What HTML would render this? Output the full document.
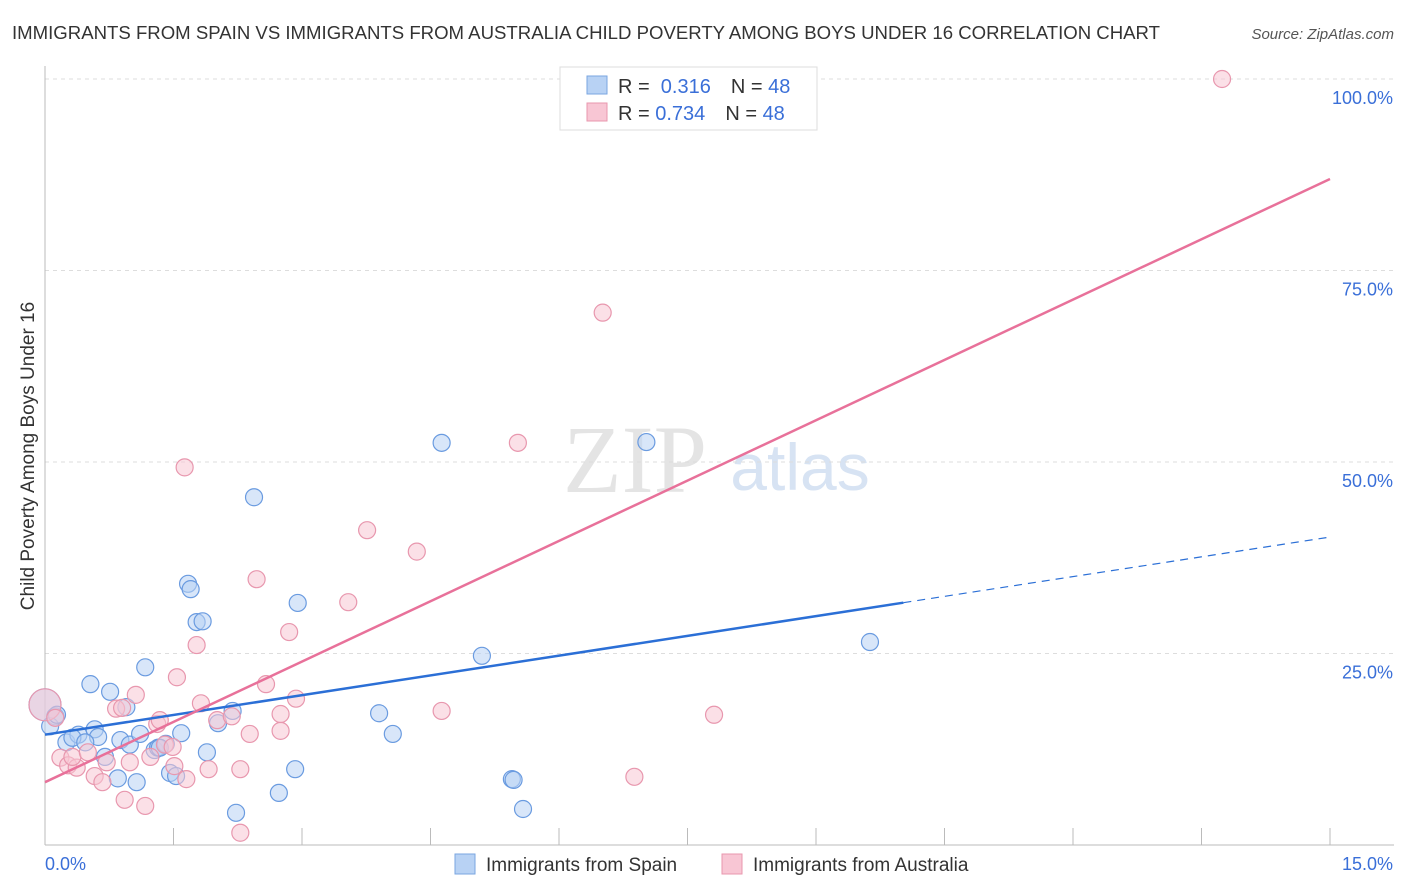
<!DOCTYPE html>
<html><head><meta charset="utf-8"><style>
body{margin:0;background:#fff;font-family:"Liberation Sans",sans-serif;}
#wrap{position:relative;width:1406px;height:892px;overflow:hidden}
</style></head><body>
<div id="wrap">
<svg id="chart" width="1406" height="892">
<text x="12" y="39" font-size="18.6" fill="#333" textLength="1148">IMMIGRANTS FROM SPAIN VS IMMIGRANTS FROM AUSTRALIA CHILD POVERTY AMONG BOYS UNDER 16 CORRELATION CHART</text>
<text x="1394" y="39" font-size="15" fill="#555" font-style="italic" text-anchor="end">Source: ZipAtlas.com</text>
<text x="635" y="492" font-size="96" fill="#e4e4e4" font-family="Liberation Serif" text-anchor="middle">ZIP</text>
<text x="800" y="490" font-size="66" fill="#d7e3f3" text-anchor="middle">atlas</text>
<text transform="translate(34,456) rotate(-90)" font-size="19" fill="#333" text-anchor="middle">Child Poverty Among Boys Under 16</text>
<g id="grid"></g><g id="axes"></g><g id="marks"></g><g id="lines"></g>
<g>
<rect x="560" y="67" width="257" height="63" fill="#fff" stroke="#ddd"/>
<rect x="587" y="76" width="20" height="18" fill="#b8d2f4" stroke="#7aa6e0"/>
<rect x="587" y="103" width="20" height="18" fill="#f8c6d4" stroke="#e897ae"/>
<text x="618" y="93" font-size="20" fill="#333">R = <tspan fill="#3a6fd8">&#160;0.316</tspan><tspan dx="20">N = </tspan><tspan fill="#3a6fd8">48</tspan></text>
<text x="618" y="120" font-size="20" fill="#333">R = <tspan fill="#3a6fd8">0.734</tspan><tspan dx="20">N = </tspan><tspan fill="#3a6fd8">48</tspan></text>
</g>
<g>
<rect x="455" y="854" width="20" height="20" fill="#b8d2f4" stroke="#7aa6e0"/>
<text x="486" y="871" font-size="19" fill="#333">Immigrants from Spain</text>
<rect x="722" y="854" width="20" height="20" fill="#f8c6d4" stroke="#e897ae"/>
<text x="753" y="871" font-size="19" fill="#333">Immigrants from Australia</text>
</g>
</svg>
</div>
<script>
const xTicks=[0,1.5,3,4.5,6,7.5,9,10.5,12,13.5,15];
const yTicks=[25,50,75,100];
const yTickLabels=["25.0%","50.0%","75.0%","100.0%"];
const spainX=[0,.12,.06,.14,.53,.76,.95,1.17,.25,.39,.58,.62,.32,.70,.88,.99,1.11,.85,1.07,1.28,1.32,1.59,1.67,1.70,1.77,1.84,1.89,2.02,2.19,1.46,1.53,2.23,2.44,2.73,2.92,2.95,3.90,4.06,4.63,5.10,5.45,5.47,5.58,7.02,9.63,1.41,1.34,.47];
const spainY=[18.3,16.8,15.5,17.0,21.0,20.0,18.0,23.2,13.4,14.4,15.1,14.1,14.0,11.5,13.7,13.1,14.5,8.7,8.2,12.4,12.7,14.6,34.1,33.4,29.1,29.2,12.1,15.9,17.5,9.4,9.0,4.2,45.4,6.8,9.9,31.6,17.2,14.5,52.5,24.7,8.6,8.5,4.7,52.6,26.5,13.2,12.7,13.4];
const ausX=[0,.12,.18,.27,.37,.32,.50,.58,.67,.72,.83,.90,1.06,.93,1.17,.99,1.23,1.31,1.34,1.40,1.51,1.54,1.65,1.63,1.77,1.82,1.91,2.01,2.18,2.28,2.39,2.47,2.58,2.28,2.75,2.75,2.85,2.93,3.54,3.76,4.34,4.63,5.52,6.51,6.88,7.81,13.74,1.49];
const ausY=[18.3,16.6,11.4,10.4,10.1,11.5,12.1,9.0,8.2,10.8,17.8,17.9,19.6,5.9,5.1,10.8,11.5,15.8,16.3,13.1,10.3,21.9,8.6,49.3,26.1,18.5,9.9,16.3,16.8,9.9,14.5,34.7,21.0,1.6,14.9,17.1,27.8,19.1,31.7,41.1,38.3,17.5,52.5,69.5,8.9,17.0,100,12.8];
const spainTrend=[14.4,1.72]; // intercept, slope
const ausTrend=[8.2,5.25];
const spainSolidEnd=10.02;

const X0=45,X1=1330,Y0=845,Y100=79;
const sx=v=>X0+(v/15)*(X1-X0);
const sy=v=>Y0-(v/100)*(Y0-Y100);
const NS="http://www.w3.org/2000/svg";
function mk(parent,tag,attrs){const e=document.createElementNS(NS,tag);for(const k in attrs)e.setAttribute(k,attrs[k]);document.getElementById(parent).appendChild(e);return e;}

yTicks.forEach((t,i)=>{
  const g=mk('grid','line',{x1:45,x2:1394,y1:sy(t),y2:sy(t),stroke:'#ddd','stroke-dasharray':'4,4'});
  
  
  const l=mk('axes','text',{x:1393,y:sy(t)+25,'font-size':18,fill:'#3a6fd8','text-anchor':'end'});
  l.textContent=yTickLabels[i];
  
  
});
const ya=mk('axes','line',{x1:45,x2:45,y1:66,y2:845,stroke:'#bbb'});


const xa=mk('axes','line',{x1:45,x2:1394,y1:845,y2:845,stroke:'#bbb'});


xTicks.forEach(t=>{
  const tk=mk('axes','line',{x1:sx(t),x2:sx(t),y1:828,y2:845,stroke:'#bbb'});
  
  
});
const xl0=mk('axes','text',{x:45,y:870,'font-size':18,fill:'#3a6fd8'});xl0.textContent='0.0%';


const xl1=mk('axes','text',{x:1393,y:870,'font-size':18,fill:'#3a6fd8','text-anchor':'end'});xl1.textContent='15.0%';



function pts(xs,ys,fill,stroke,name){
  xs.forEach((x,i)=>{
    const r=(i===0)?16:8.5;
    const c=mk('marks','circle',{cx:sx(x),cy:sy(ys[i]),r:r,fill:fill,'fill-opacity':0.55,stroke:stroke,'stroke-width':1.2});
    
    
  });
}
pts(spainX,spainY,'#b8d2f4','#6a9be0','point-spain');
pts(ausX,ausY,'#f8c6d4','#e897ae','point-australia');

const b1=mk('lines','line',{x1:sx(0),y1:sy(spainTrend[0]),x2:sx(spainSolidEnd),y2:sy(spainTrend[0]+spainTrend[1]*spainSolidEnd),stroke:'#2b6fd6','stroke-width':2.5});


const b2=mk('lines','line',{x1:sx(spainSolidEnd),y1:sy(spainTrend[0]+spainTrend[1]*spainSolidEnd),x2:sx(15),y2:sy(spainTrend[0]+spainTrend[1]*15),stroke:'#2b6fd6','stroke-width':1.2,'stroke-dasharray':'8,6'});


const p1=mk('lines','line',{x1:sx(0),y1:sy(ausTrend[0]),x2:sx(15),y2:sy(ausTrend[0]+ausTrend[1]*15),stroke:'#e8719a','stroke-width':2.5});


</script>
</body></html>
